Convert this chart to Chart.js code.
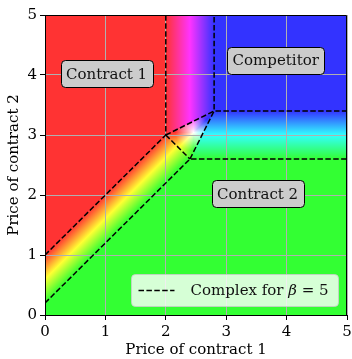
<!DOCTYPE html>
<html>
<head>
<meta charset="utf-8">
<script src="https://cdn.jsdelivr.net/npm/chart.js@4.4.0/dist/chart.umd.min.js"></script>
<style>
  html, body { margin: 0; padding: 0; background: #ffffff; }
  #wrap { width: 352px; height: 359px; }
</style>
</head>
<body>
<div id="wrap"><canvas id="c" width="352" height="359"></canvas></div>
<script>
// Axis range and ticks
const axisMin = 0;
const axisMax = 5;
const tickStep = 1;

// Solid decision regions (vertices in price units)
const contract1Region = [[0, 1], [2, 3], [2, 5], [0, 5]];
const competitorRegion = [[2.8, 3.4], [5, 3.4], [5, 5], [2.8, 5]];
const contract2Region = [[0, 0], [5, 0], [5, 2.6], [2.4, 2.6], [0, 0.2]];

// Mixed regions between two choices
const band12 = [[0, 0.2], [2.4, 2.6], [2, 3], [0, 1]];          // contract 1 / contract 2
const band1C = [[2, 3], [2.8, 3.4], [2.8, 5], [2, 5]];          // contract 1 / competitor
const bandC2 = [[2.4, 2.6], [5, 2.6], [5, 3.4], [2.8, 3.4]];    // competitor / contract 2
const centreTriangle = [[2, 3], [2.4, 2.6], [2.8, 3.4]];        // all three
const centrePoint = [2.46, 3.04];

// Dashed boundary of the complex
const complexPaths = [
  [[0, 1], [2, 3], [2, 5]],
  [[0, 0.2], [2.4, 2.6], [5, 2.6]],
  [[2, 3], [2.4, 2.6]],
  [[2, 3], [2.8, 3.4], [5, 3.4]],
  [[2.4, 2.6], [2.8, 3.4], [2.8, 5]]
];
const complexLabel = 'Complex for β = 5';

// Region labels
const regionNames = ['Contract 1', 'Competitor', 'Contract 2'];
const regionX = [1.02, 3.82, 3.52];
const regionY = [4.02, 4.24, 2.02];

// Colours
const RED = 'rgb(255,51,51)';
const GREEN = 'rgb(51,255,51)';
const BLUE = 'rgb(51,51,255)';
const YELLOW = 'rgb(255,255,51)';
const MAGENTA = 'rgb(255,51,255)';
const CYAN = 'rgb(51,255,255)';

const FONT_FAMILY = '"DejaVu Serif", "Liberation Serif", serif';
const baseFont = { family: FONT_FAMILY, size: 15 };
const DASH = [5.5, 2.4];

function toPx(chart, p) {
  return [chart.scales.x.getPixelForValue(p[0]), chart.scales.y.getPixelForValue(p[1])];
}

function tracePoly(ctx, chart, poly) {
  ctx.beginPath();
  poly.forEach((p, i) => {
    const [a, b] = toPx(chart, p);
    if (i === 0) ctx.moveTo(a, b); else ctx.lineTo(a, b);
  });
  ctx.closePath();
}

function fillPoly(ctx, chart, poly, style) {
  tracePoly(ctx, chart, poly);
  ctx.fillStyle = style;
  ctx.fill();
  ctx.strokeStyle = style;
  ctx.lineWidth = 1;
  ctx.stroke();
}

function linGrad(ctx, chart, from, to, stops) {
  const [x0, y0] = toPx(chart, from);
  const [x1, y1] = toPx(chart, to);
  const g = ctx.createLinearGradient(x0, y0, x1, y1);
  stops.forEach(([o, c]) => g.addColorStop(o, c));
  return g;
}

// Coloured regions, painted before the grid so grid lines sit on top
const regionPlugin = {
  id: 'regions',
  beforeDraw(chart) {
    const { ctx, chartArea } = chart;
    ctx.save();
    ctx.beginPath();
    ctx.rect(chartArea.left, chartArea.top, chartArea.right - chartArea.left, chartArea.bottom - chartArea.top);
    ctx.clip();

    fillPoly(ctx, chart, contract1Region, RED);
    fillPoly(ctx, chart, competitorRegion, BLUE);
    fillPoly(ctx, chart, contract2Region, GREEN);

    fillPoly(ctx, chart, band12,
      linGrad(ctx, chart, [0, 1], [0.4, 0.6], [[0, RED], [0.5, YELLOW], [1, GREEN]]));
    fillPoly(ctx, chart, band1C,
      linGrad(ctx, chart, [2, 4], [2.8, 4], [[0, RED], [0.5, MAGENTA], [1, BLUE]]));
    fillPoly(ctx, chart, bandC2,
      linGrad(ctx, chart, [4, 3.4], [4, 2.6], [[0, BLUE], [0.5, CYAN], [1, GREEN]]));

    const [cx, cy] = toPx(chart, centrePoint);
    const conic = ctx.createConicGradient(0, cx, cy);
    [[0, CYAN], [0.25, GREEN], [0.375, YELLOW], [0.5, RED], [0.75, MAGENTA], [0.875, BLUE], [1, CYAN]]
      .forEach(([o, c]) => conic.addColorStop(o, c));
    fillPoly(ctx, chart, centreTriangle, conic);

    const r = Math.abs(chart.scales.x.getPixelForValue(0.3) - chart.scales.x.getPixelForValue(0));
    const radial = ctx.createRadialGradient(cx, cy, 0, cx, cy, r);
    radial.addColorStop(0, 'rgba(255,255,255,1)');
    radial.addColorStop(0.25, 'rgba(255,255,255,0.7)');
    radial.addColorStop(1, 'rgba(255,255,255,0)');
    tracePoly(ctx, chart, centreTriangle);
    ctx.fillStyle = radial;
    ctx.fill();
    ctx.restore();
  }
};

function roundRect(ctx, x, y, w, h, r) {
  ctx.beginPath();
  ctx.moveTo(x + r, y);
  ctx.lineTo(x + w - r, y);
  ctx.arcTo(x + w, y, x + w, y + r, r);
  ctx.lineTo(x + w, y + h - r);
  ctx.arcTo(x + w, y + h, x + w - r, y + h, r);
  ctx.lineTo(x + r, y + h);
  ctx.arcTo(x, y + h, x, y + h - r, r);
  ctx.lineTo(x, y + r);
  ctx.arcTo(x, y, x + r, y, r);
  ctx.closePath();
}

// Frame, region labels and the legend box
const overlayPlugin = {
  id: 'overlay',
  afterDatasetsDraw(chart) {
    const { ctx, chartArea } = chart;
    ctx.save();

    // top and right spines
    ctx.strokeStyle = '#000';
    ctx.lineWidth = 1;
    ctx.beginPath();
    ctx.moveTo(Math.round(chartArea.left) + 0.5, Math.round(chartArea.top) + 0.5);
    ctx.lineTo(Math.round(chartArea.right) - 0.5, Math.round(chartArea.top) + 0.5);
    ctx.lineTo(Math.round(chartArea.right) - 0.5, Math.round(chartArea.bottom) + 0.5);
    ctx.stroke();

    // region labels
    ctx.font = `15px ${FONT_FAMILY}`;
    ctx.textAlign = 'center';
    ctx.textBaseline = 'middle';
    regionNames.forEach((name, i) => {
      const [x, y] = toPx(chart, [regionX[i], regionY[i]]);
      const w = ctx.measureText(name).width + 11;
      const h = 27;
      roundRect(ctx, Math.round(x - w / 2) + 0.5, Math.round(y - h / 2) + 0.5, Math.round(w), h, 4);
      ctx.fillStyle = '#cccccc';
      ctx.fill();
      ctx.strokeStyle = '#000';
      ctx.lineWidth = 1;
      ctx.stroke();
      ctx.fillStyle = '#111';
      ctx.fillText(name, x, y + 1);
    });

    // legend
    const ds = chart.data.datasets[0];
    const parts = ds.label.split('β');
    ctx.textAlign = 'left';
    const fNorm = `15px ${FONT_FAMILY}`;
    const fItal = `italic 15px ${FONT_FAMILY}`;
    ctx.font = fNorm;
    const w0 = ctx.measureText(parts[0]).width;
    const w2 = ctx.measureText(parts[1]).width;
    ctx.font = fItal;
    const w1 = ctx.measureText('β').width;
    const textW = w0 + w1 + w2;
    const boxW = 7 + 36 + 16 + textW + 10;
    const boxH = 32;
    const bx = Math.round(chartArea.right - 9 - boxW) + 0.5;
    const by = Math.round(chartArea.bottom - 9 - boxH) + 0.5;
    roundRect(ctx, bx, by, Math.round(boxW), boxH, 4);
    ctx.fillStyle = 'rgba(255,255,255,0.8)';
    ctx.fill();
    ctx.strokeStyle = 'rgba(204,204,204,0.8)';
    ctx.stroke();

    const ly = by + boxH / 2;
    ctx.strokeStyle = ds.borderColor;
    ctx.lineWidth = ds.borderWidth;
    ctx.setLineDash(ds.borderDash);
    ctx.beginPath();
    ctx.moveTo(bx + 7, ly);
    ctx.lineTo(bx + 43, ly);
    ctx.stroke();
    ctx.setLineDash([]);

    let tx = bx + 59;
    ctx.fillStyle = '#111';
    ctx.textBaseline = 'middle';
    ctx.font = fNorm;
    ctx.fillText(parts[0], tx, ly + 1);
    tx += w0;
    ctx.font = fItal;
    ctx.fillText('β', tx, ly + 1);
    tx += w1;
    ctx.font = fNorm;
    ctx.fillText(parts[1], tx, ly + 1);

    ctx.restore();
  }
};

const datasets = complexPaths.map((path, i) => ({
  label: i === 0 ? complexLabel : '',
  data: path.map(([x, y]) => ({ x, y })),
  showLine: true,
  borderColor: '#000',
  borderWidth: 1.5,
  borderDash: DASH,
  pointRadius: 0,
  pointHoverRadius: 0,
  fill: false,
  tension: 0
}));

function axisOptions(title, fit) {
  return {
    type: 'linear',
    min: axisMin,
    max: axisMax,
    ticks: { stepSize: tickStep, color: '#000', font: baseFont, padding: 3, maxRotation: 0 },
    grid: { color: '#b0b0b0', lineWidth: 1, tickColor: '#000', tickLength: 5, drawTicks: true },
    border: { color: '#000', width: 1 },
    title: { display: true, text: title, color: '#000', font: baseFont, padding: fit.titlePad },
    afterFit: fit.fn
  };
}

new Chart(document.getElementById('c').getContext('2d'), {
  type: 'scatter',
  data: { datasets },
  options: {
    responsive: false,
    animation: false,
    events: [],
    layout: { padding: { top: 15, right: 5, left: 0, bottom: 0 } },
    plugins: { legend: { display: false }, tooltip: { enabled: false } },
    scales: {
      x: axisOptions('Price of contract 1', {
        titlePad: { top: 0, bottom: 0 },
        fn: s => { s.height = 44; s.paddingLeft = 0; s.paddingRight = 0; }
      }),
      y: axisOptions('Price of contract 2', {
        titlePad: { top: 5, bottom: 0 },
        fn: s => { s.width = 45; s.paddingTop = 0; s.paddingBottom = 0; }
      })
    }
  },
  plugins: [regionPlugin, overlayPlugin]
});
</script>
</body>
</html>
